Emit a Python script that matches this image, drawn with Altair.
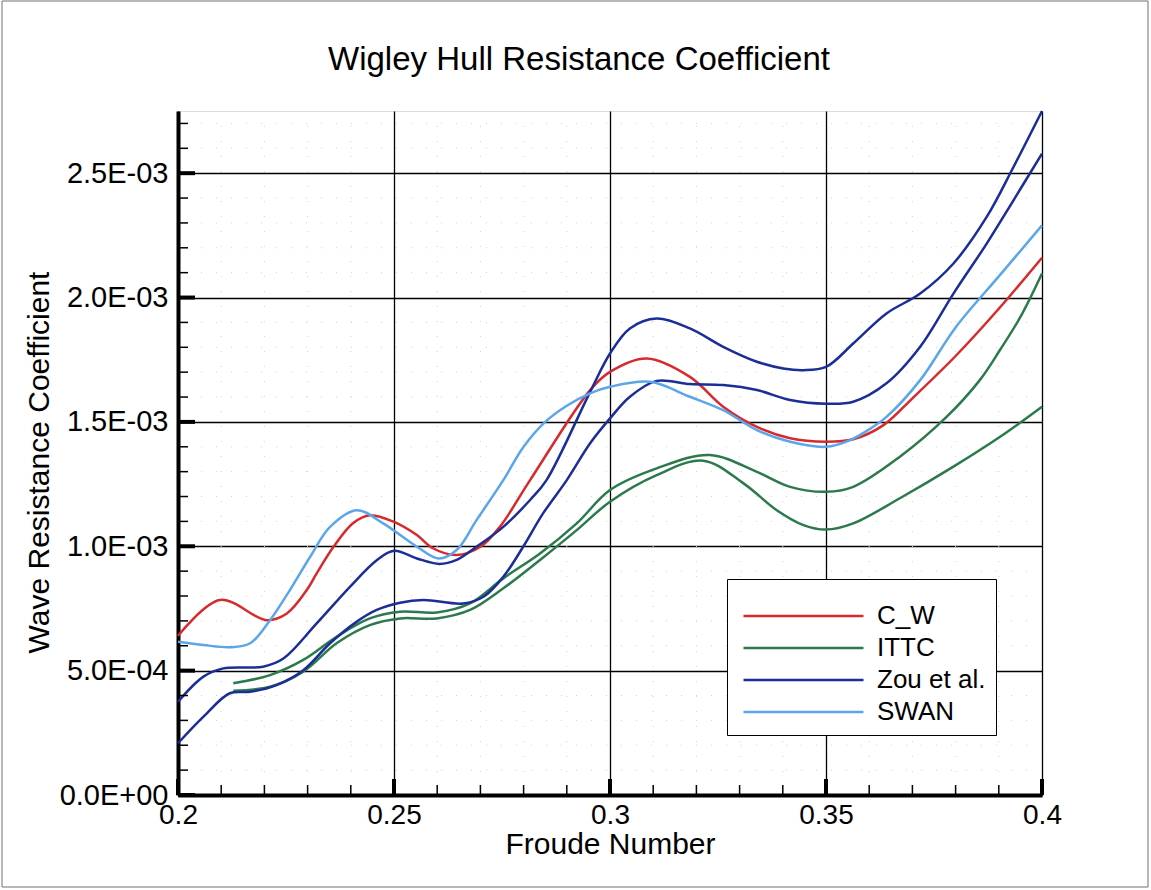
import altair as alt
import pandas as pd

# ---- curve samples: Froude number and wave resistance coefficient (x 1E-03) ----
cw_fr = [0.200, 0.2097, 0.2205, 0.2252, 0.2298, 0.2321, 0.236, 0.2405, 0.2444, 0.250,
         0.2553, 0.259, 0.2645, 0.270, 0.2745, 0.2815, 0.2954, 0.300, 0.3085, 0.3185,
         0.3262, 0.334, 0.3417, 0.350, 0.3563, 0.3633, 0.370, 0.380, 0.390, 0.400]
cw_val = [0.640, 0.784, 0.703, 0.730, 0.824, 0.891, 0.998, 1.093, 1.125, 1.098,
          1.045, 0.992, 0.965, 0.998, 1.078, 1.266, 1.628, 1.701, 1.755, 1.681,
          1.561, 1.480, 1.434, 1.420, 1.430, 1.487, 1.595, 1.765, 1.955, 2.160]

ittc1_fr = [0.2128, 0.2213, 0.229, 0.2367, 0.2444, 0.2514, 0.2599, 0.2676, 0.2753, 0.2838,
            0.2923, 0.300, 0.3108, 0.3231, 0.334, 0.3417, 0.350, 0.3563, 0.3671, 0.3779,
            0.3856, 0.3903, 0.395, 0.400]
ittc1_val = [0.449, 0.482, 0.543, 0.636, 0.710, 0.737, 0.734, 0.770, 0.871, 0.971,
             1.092, 1.226, 1.313, 1.367, 1.299, 1.239, 1.219, 1.239, 1.360, 1.520,
             1.668, 1.790, 1.922, 2.097]

ittc2_fr = [0.2128, 0.2213, 0.229, 0.2367, 0.2444, 0.2514, 0.2599, 0.2676, 0.2753, 0.2838,
            0.2923, 0.300, 0.3108, 0.3216, 0.3309, 0.3386, 0.3448, 0.350, 0.3563, 0.3671,
            0.3795, 0.3903, 0.400]
ittc2_val = [0.419, 0.435, 0.496, 0.610, 0.683, 0.710, 0.710, 0.744, 0.831, 0.945,
             1.065, 1.179, 1.286, 1.344, 1.253, 1.145, 1.085, 1.067, 1.092, 1.193,
             1.320, 1.440, 1.561]

zou1_fr = [0.200, 0.2059, 0.2105, 0.2197, 0.2244, 0.2321, 0.2398, 0.246, 0.250, 0.2553,
           0.2605, 0.2645, 0.2691, 0.2753, 0.2815, 0.2853, 0.2954, 0.300, 0.3046, 0.3108,
           0.3185, 0.3262, 0.334, 0.3401, 0.3448, 0.350, 0.3563, 0.364, 0.3718, 0.3795,
           0.3872, 0.3934, 0.400]
zou1_val = [0.375, 0.476, 0.509, 0.516, 0.549, 0.690, 0.837, 0.944, 0.982, 0.951,
            0.929, 0.945, 0.998, 1.078, 1.186, 1.266, 1.621, 1.775, 1.876, 1.916,
            1.876, 1.802, 1.742, 1.715, 1.708, 1.721, 1.815, 1.936, 2.016, 2.137,
            2.324, 2.525, 2.750]

zou2_fr = [0.200, 0.2059, 0.212, 0.2167, 0.2228, 0.229, 0.2352, 0.2414, 0.246, 0.2514,
           0.2568, 0.266, 0.2707, 0.2753, 0.2799, 0.2845, 0.290, 0.2954, 0.300, 0.3046,
           0.3108, 0.3185, 0.3262, 0.334, 0.3417, 0.350, 0.3563, 0.364, 0.3718, 0.3795,
           0.3872, 0.3934, 0.400]
zou2_val = [0.208, 0.315, 0.409, 0.415, 0.442, 0.502, 0.610, 0.697, 0.744, 0.773,
            0.784, 0.770, 0.797, 0.877, 0.998, 1.132, 1.266, 1.414, 1.514, 1.601,
            1.665, 1.652, 1.648, 1.628, 1.588, 1.573, 1.581, 1.655, 1.802, 2.016,
            2.217, 2.391, 2.579]

swan_fr = [0.200, 0.2059, 0.212, 0.2167, 0.2213, 0.2259, 0.2306, 0.2352, 0.2414, 0.2475,
           0.2553, 0.2603, 0.2645, 0.2691, 0.2753, 0.280, 0.285, 0.290, 0.2954, 0.300,
           0.3093, 0.3185, 0.3262, 0.334, 0.3417, 0.350, 0.3556, 0.360, 0.364, 0.3718,
           0.380, 0.390, 0.400]
swan_val = [0.616, 0.603, 0.594, 0.610, 0.703, 0.824, 0.958, 1.078, 1.145, 1.092,
            0.998, 0.951, 0.985, 1.105, 1.266, 1.400, 1.500, 1.565, 1.615, 1.641,
            1.661, 1.601, 1.547, 1.467, 1.420, 1.400, 1.427, 1.470, 1.520, 1.668,
            1.880, 2.085, 2.290]

# ---- series styling and axis ticks ----
series_order = ["C_W", "ITTC", "Zou et al.", "SWAN"]
series_colors = ["#d62a2c", "#2c7a4c", "#1b2e98", "#5ba6ea"]
series_widths = [2.5, 2.5, 2.8, 1.6]

x_major = [0.2, 0.25, 0.3, 0.35, 0.4]
x_minor = [0.21, 0.22, 0.23, 0.24, 0.26, 0.27, 0.28, 0.29,
           0.31, 0.32, 0.33, 0.34, 0.36, 0.37, 0.38, 0.39]
y_major = [0.0, 0.0005, 0.001, 0.0015, 0.002, 0.0025]
y_major_labels = ["0.0E+00", "5.0E-04", "1.0E-03", "1.5E-03", "2.0E-03", "2.5E-03"]
y_minor = [0.0001, 0.0002, 0.0003, 0.0004, 0.0006, 0.0007, 0.0008, 0.0009,
           0.0011, 0.0012, 0.0013, 0.0014, 0.0016, 0.0017, 0.0018, 0.0019,
           0.0021, 0.0022, 0.0023, 0.0024, 0.0026, 0.0027]

W, H = 864, 684
FONT = "Liberation Sans"

curves = [
    ("C_W", "cw", cw_fr, cw_val),
    ("ITTC", "ittc1", ittc1_fr, ittc1_val),
    ("ITTC", "ittc2", ittc2_fr, ittc2_val),
    ("Zou et al.", "zou1", zou1_fr, zou1_val),
    ("Zou et al.", "zou2", zou2_fr, zou2_val),
    ("SWAN", "swan", swan_fr, swan_val),
]
rows = []
for name, cid, frs, vals in curves:
    for f, v in zip(frs, vals):
        rows.append({"series": name, "curve": cid, "fr": f, "cw": v * 1e-3})
df = pd.DataFrame(rows)

# label expression for scientific tick labels
label_expr = "''"
for v, lab in reversed(list(zip(y_major, y_major_labels))):
    label_expr = f"abs(datum.value - {v}) < 1e-7 ? '{lab}' : ({label_expr})"

x_scale = alt.Scale(domain=[0.2, 0.4], nice=False, zero=False)
y_scale = alt.Scale(domain=[0.0, 0.00275], nice=False, zero=False)

x_axis = alt.Axis(values=x_major, format=".2~f", title="Froude Number",
                  grid=True, gridColor="black", gridWidth=1.3, gridOpacity=1,
                  ticks=False, domainColor="black", domainWidth=4,
                  labelFontSize=28, labelFont=FONT, labelColor="black",
                  labelPadding=6, labelFlush=False,
                  titleFontSize=30, titleFont=FONT, titleFontWeight="normal",
                  titleColor="black", titleY=58, titleBaseline="alphabetic")
y_axis = alt.Axis(values=y_major, labelExpr=label_expr,
                  title="Wave Resistance Coefficient",
                  grid=True, gridColor="black", gridWidth=1.3, gridOpacity=1,
                  ticks=False, domainColor="black", domainWidth=4,
                  labelFontSize=29, labelFont=FONT, labelColor="black",
                  labelPadding=10, labelBaseline="middle",
                  titleFontSize=30, titleFont=FONT, titleFontWeight="normal",
                  titleColor="black", titleAngle=270, titleX=-130, titleY=H / 2 + 9,
                  titleBaseline="alphabetic", titleAlign="center")

x_enc = alt.X("fr:Q", scale=x_scale, axis=x_axis)
y_enc = alt.Y("cw:Q", scale=y_scale, axis=y_axis)

# faint dotted minor grid
minor_x_grid = alt.Chart(pd.DataFrame({"fr": x_minor})).mark_rule(
    color="#d2d2d2", strokeWidth=1, strokeDash=[1, 14]
).encode(x=x_enc)
minor_y_grid = alt.Chart(pd.DataFrame({"cw": y_minor})).mark_rule(
    color="#d2d2d2", strokeWidth=1, strokeDash=[1, 14]
).encode(y=y_enc)

lines = alt.Chart(df).mark_line(interpolate="catmull-rom").encode(
    x=x_enc,
    y=y_enc,
    color=alt.Color(
        "series:N",
        scale=alt.Scale(domain=series_order, range=series_colors),
        sort=series_order,
        legend=alt.Legend(
            title=" ", titleFontSize=14, titlePadding=0,
            orient="none", legendX=549, legendY=468,
            symbolType="M-1.3,0H22.7", symbolSize=100, symbolStrokeWidth=2.5,
            labelFontSize=26, labelFont=FONT, labelColor="black", labelLimit=400,
            labelOffset=114, rowPadding=6, padding=10,
            strokeColor="black", fillColor="white",
        ),
    ),
    strokeWidth=alt.StrokeWidth(
        "series:N",
        scale=alt.Scale(domain=series_order, range=series_widths),
        legend=None,
    ),
    detail="curve:N",
)

# inward-pointing axis ticks
x_minor_ticks = alt.Chart(pd.DataFrame({"fr": x_minor})).mark_rule(
    color="black", strokeWidth=1.5
).encode(x=x_enc, y=alt.value(H), y2=alt.value(H - 10))
x_major_ticks = alt.Chart(pd.DataFrame({"fr": x_major})).mark_rule(
    color="black", strokeWidth=4
).encode(x=x_enc, y=alt.value(H), y2=alt.value(H - 16))
y_minor_ticks = alt.Chart(pd.DataFrame({"cw": y_minor})).mark_rule(
    color="black", strokeWidth=1.5
).encode(y=y_enc, x=alt.value(0), x2=alt.value(10))
y_major_ticks = alt.Chart(pd.DataFrame({"cw": y_major})).mark_rule(
    color="black", strokeWidth=4
).encode(y=y_enc, x=alt.value(0), x2=alt.value(17))

# thin page border
page_frame = alt.Chart(pd.DataFrame({"k": [0]})).mark_rect(
    fillOpacity=0, stroke="#707070", strokeWidth=1
).encode(x=alt.value(-176), x2=alt.value(970), y=alt.value(-110), y2=alt.value(776))

chart = alt.layer(
    minor_x_grid, minor_y_grid, lines,
    x_minor_ticks, x_major_ticks, y_minor_ticks, y_major_ticks, page_frame,
).properties(
    width=W,
    height=H,
    title=alt.TitleParams(
        "Wigley Hull Resistance Coefficient",
        fontSize=33, font=FONT, fontWeight="normal", color="black",
        anchor="middle", dx=-31, offset=-76,
    ),
    autosize=alt.AutoSizeParams(type="none"),
    padding={"left": 178, "top": 111, "right": 109, "bottom": 95},
).configure_view(
    stroke=None
).configure(
    background="white"
)

chart.save("out.html", embed_options={"renderer": "svg", "actions": False})
